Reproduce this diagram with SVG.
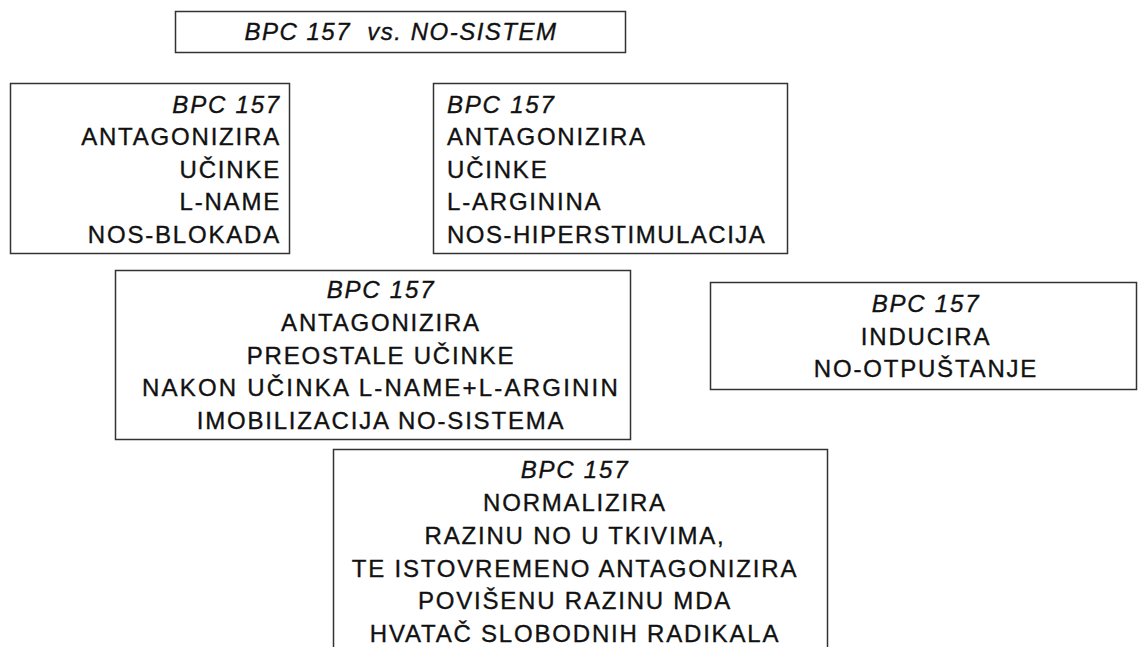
<svg xmlns="http://www.w3.org/2000/svg" width="1141" height="647" viewBox="0 0 1141 647">
<style>
.box{fill:#fff;stroke:#333;stroke-width:1.5}
text{font-family:"Liberation Sans",Arial,sans-serif;font-size:24px;letter-spacing:1.8px;fill:#111;stroke:#111;stroke-width:0.35px}
.i{font-style:italic}
.m{text-anchor:middle}
.e{text-anchor:end}
</style>
<rect width="1141" height="647" fill="#fff"/>
<g id="connectors"></g>
<g id="title">
<rect class="box" x="175.5" y="11.5" width="450" height="41"/>
<text class="i m" x="401" y="40" xml:space="preserve" style="font-size:24px;letter-spacing:1.5px">BPC 157  vs. NO-SISTEM</text>
</g>
<g id="node-lname">
<rect class="box" x="10.5" y="83.5" width="279" height="170"/>
<text class="e i" x="281" y="113">BPC 157</text>
<text class="e" x="281" y="145">ANTAGONIZIRA</text>
<text class="e" x="281" y="178">UČINKE</text>
<text class="e" x="281" y="210">L-NAME</text>
<text class="e" x="281" y="243">NOS-BLOKADA</text>
</g>
<g id="node-larginin">
<rect class="box" x="433.5" y="83.5" width="354" height="170"/>
<text class="i" x="447" y="113">BPC 157</text>
<text x="447" y="145">ANTAGONIZIRA</text>
<text x="447" y="178">UČINKE</text>
<text x="447" y="210">L-ARGININA</text>
<text x="447" y="243" style="letter-spacing:1.5px">NOS-HIPERSTIMULACIJA</text>
</g>
<g id="node-imobilizacija">
<rect class="box" x="115.5" y="270.5" width="515" height="169"/>
<text class="m i" x="381" y="298">BPC 157</text>
<text class="m" x="381" y="331">ANTAGONIZIRA</text>
<text class="m" x="381" y="364">PREOSTALE UČINKE</text>
<text class="m" x="381" y="396" style="letter-spacing:2.2px">NAKON UČINKA L-NAME+L-ARGININ</text>
<text class="m" x="381" y="429">IMOBILIZACIJA NO-SISTEMA</text>
</g>
<g id="node-otpustanje">
<rect class="box" x="710.5" y="282.5" width="426" height="107"/>
<text class="m i" x="926" y="312">BPC 157</text>
<text class="m" x="926" y="345">INDUCIRA</text>
<text class="m" x="926" y="377">NO-OTPUŠTANJE</text>
</g>
<g id="node-mda">
<rect class="box" x="333.5" y="449.5" width="494" height="210"/>
<text class="m i" x="575" y="478">BPC 157</text>
<text class="m" x="575" y="511">NORMALIZIRA</text>
<text class="m" x="575" y="544">RAZINU NO U TKIVIMA,</text>
<text class="m" x="575" y="577">TE ISTOVREMENO ANTAGONIZIRA</text>
<text class="m" x="575" y="609">POVIŠENU RAZINU MDA</text>
<text class="m" x="575" y="642">HVATAČ SLOBODNIH RADIKALA</text>
</g>
</svg>
